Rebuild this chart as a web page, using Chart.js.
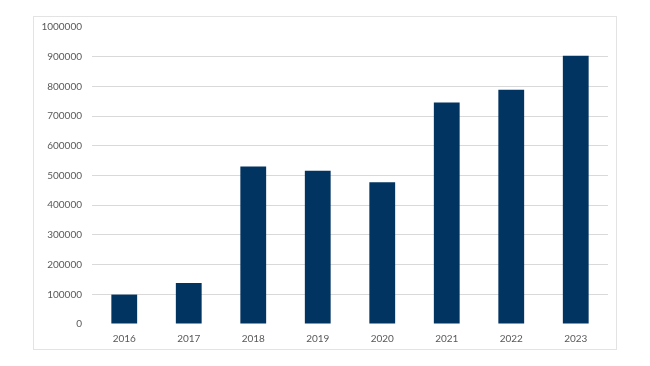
<!DOCTYPE html>
<html>
<head>
<meta charset="utf-8">
<script src="https://cdn.jsdelivr.net/npm/chart.js@4"></script>
<style>
  html, body { margin: 0; padding: 0; background: #ffffff; }
  #box { position: absolute; left: 33px; top: 16px; width: 582px; height: 332px; border: 1px solid #e3e3e3; background: #fff; }
  canvas { display: block; }
</style>
</head>
<body>
<div id="box"><canvas id="c" width="582" height="332"></canvas></div>
<script>
const categories = ['2016', '2017', '2018', '2019', '2020', '2021', '2022', '2023'];
const values = [99000, 138000, 530000, 516000, 477000, 746000, 789000, 903000];
const yTicks = [0, 100000, 200000, 300000, 400000, 500000, 600000, 700000, 800000, 900000, 1000000];

new Chart(document.getElementById('c'), {
  type: 'bar',
  data: {
    labels: categories,
    datasets: [{
      data: values,
      backgroundColor: '#023461',
      barPercentage: 0.4,
      categoryPercentage: 1.0
    }]
  },
  options: {
    responsive: false,
    animation: false,
    devicePixelRatio: 1,
    layout: { padding: { left: 0, right: 8, top: 10, bottom: 0 } },
    plugins: { legend: { display: false }, tooltip: { enabled: false } },
    scales: {
      x: {
        grid: { display: false },
        border: { display: false },
        ticks: { color: '#595959', font: { family: 'Lato', size: 10 }, padding: 1, maxRotation: 0 },
        afterFit: s => { s.height = 25; s.paddingLeft = 0; s.paddingRight = 0; }
      },
      y: {
        min: 0, max: 1000000,
        afterBuildTicks: s => { s.ticks = yTicks.map(v => ({ value: v })); },
        grid: {
          drawTicks: false,
          color: ctx => (ctx.tick && (ctx.tick.value === 0 || ctx.tick.value === 1000000)) ? 'rgba(0,0,0,0)' : '#d9d9d9'
        },
        border: { display: false },
        ticks: {
          color: '#595959', font: { family: 'Lato', size: 10 }, padding: 10,
          callback: v => String(v)
        },
        afterFit: s => { s.width = 58; s.paddingTop = 0; s.paddingBottom = 0; }
      }
    }
  }
});
</script>
</body>
</html>
